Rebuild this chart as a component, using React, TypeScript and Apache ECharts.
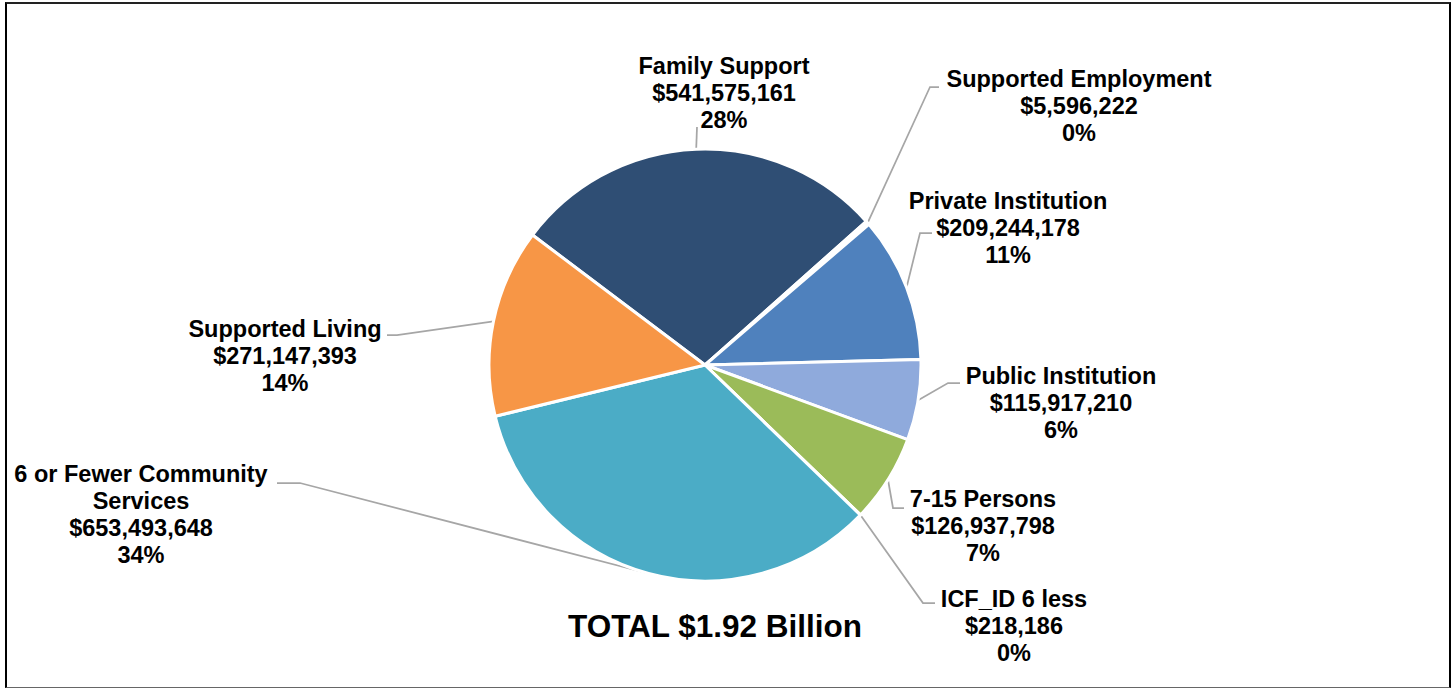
import React, { useEffect, useRef } from "react";
import * as echarts from "echarts";

// ---- data ----
const categories = [
  "Family Support",
  "Supported Employment",
  "Private Institution",
  "Public Institution",
  "7-15 Persons",
  "ICF_ID 6 less",
  "6 or Fewer Community Services",
  "Supported Living",
];
const amounts = [541575161, 5596222, 209244178, 115917210, 126937798, 218186, 653493648, 271147393];
const totalText = "TOTAL $1.92 Billion";

// ---- styles / layout ----
const sliceColors = ["#2F4E74", "#FFFFFF", "#4F81BD", "#8FAADC", "#9BBB59", "#8064A2", "#4BACC6", "#F79646"];
const FONT = "Arial, 'Liberation Sans', Helvetica, sans-serif";
const PIE_CENTER = [705, 365];
const PIE_RADIUS = 216;
const START_ANGLE = 143;
// label block centres (px)
const labelCenters = [
  [724, 92.5],
  [1079, 105.5],
  [1008, 227.5],
  [1061, 402.5],
  [983, 525.5],
  [1014, 625.5],
  [141, 514],
  [285, 355.5],
];
// guide line bends after the slice-edge point (px)
const guideBends = [
  [[697, 127]],
  [[930, 87], [939, 87]],
  [[920, 233], [932, 233]],
  [[948, 383], [960, 383]],
  [[893, 508], [904, 508]],
  [[923, 603], [935, 603]],
  [[300, 483], [277, 483]],
  [[397, 335], [387, 335]],
];

const total = amounts.reduce((a, b) => a + b, 0);

function edgePoint(i: number): number[] {
  let cum = 0;
  for (let k = 0; k < i; k++) cum += amounts[k];
  const mid = ((START_ANGLE - ((cum + amounts[i] / 2) / total) * 360) * Math.PI) / 180;
  return [PIE_CENTER[0] + PIE_RADIUS * Math.cos(mid), PIE_CENTER[1] - PIE_RADIUS * Math.sin(mid)];
}

export default function App() {
  const ref = useRef<HTMLDivElement>(null);
  useEffect(() => {
    if (!ref.current) return;
    const chart = echarts.init(ref.current, undefined, { renderer: "svg" });
    chart.setOption({
      animation: false,
      backgroundColor: "transparent",
      graphic: [
        {
          type: "text",
          x: 715,
          y: 625.5,
          style: {
            text: totalText,
            font: `bold 31.5px ${FONT}`,
            fill: "#000",
            textAlign: "center",
            textVerticalAlign: "middle",
          },
        },
      ],
      series: [
        {
          type: "pie",
          center: PIE_CENTER,
          radius: PIE_RADIUS,
          startAngle: START_ANGLE,
          clockwise: true,
          avoidLabelOverlap: false,
          minShowLabelAngle: 0,
          emphasis: { disabled: true },
          itemStyle: { borderColor: "#FFFFFF", borderWidth: 3 },
          data: categories.map((name, i) => ({
            name,
            value: amounts[i],
            itemStyle: { color: sliceColors[i] },
          })),
          label: {
            show: true,
            position: "outside",
            color: "#000",
            fontFamily: FONT,
            fontWeight: "bold",
            fontSize: 23.5,
            lineHeight: 27,
            align: "center",
            formatter: (p: any) => {
              const name = String(p.name).replace("Community Services", "Community\nServices");
              const pct = Math.round((p.value / total) * 100);
              return `${name}\n$${Number(p.value).toLocaleString("en-US")}\n${pct}%`;
            },
          },
          labelLine: {
            show: true,
            smooth: false,
            lineStyle: { color: "#A6A6A6", width: 1.75 },
          },
          labelLayout: (params: any) => {
            const i = params.dataIndex;
            const [x, y] = labelCenters[i];
            const edge =
              params.labelLinePoints && params.labelLinePoints[0]
                ? params.labelLinePoints[0]
                : edgePoint(i);
            return {
              x,
              y,
              align: "center",
              verticalAlign: "middle",
              labelLinePoints: [edge, ...guideBends[i]],
            };
          },
        },
      ],
    });
    return () => chart.dispose();
  }, []);

  return (
    <div style={{ position: "absolute", left: 0, top: 0, width: 1455, height: 688, background: "#fff" }}>
      <div
        style={{
          position: "absolute",
          left: 5,
          top: 2,
          width: 1446,
          height: 686,
          boxSizing: "border-box",
          borderLeft: "2px solid #000",
          borderRight: "2px solid #000",
          borderTop: "2px solid #222",
          borderBottom: "1px solid #666",
        }}
      />
      <div ref={ref} style={{ position: "absolute", left: 0, top: 0, width: 1455, height: 688 }} />
    </div>
  );
}
